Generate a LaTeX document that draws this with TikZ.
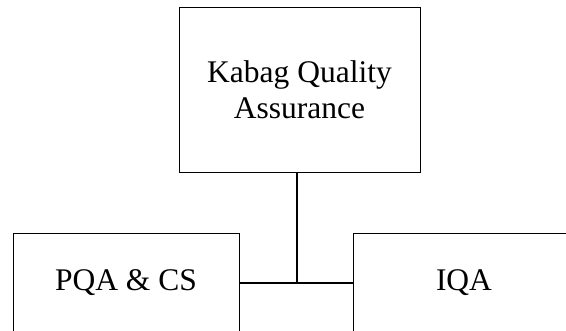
\documentclass[tikz,border=0pt]{standalone}
\usepackage{fontspec}
\setmainfont{Liberation Serif}
\begin{document}
\begin{tikzpicture}[x=1pt, y=-1pt,
    unit/.style = {draw, line width=0.8pt, inner sep=0pt, align=center,
                   font=\fontsize{31.5}{36}\selectfont},
    link/.style = {line width=2pt}]
  \useasboundingbox (0,0) rectangle (566,331);
  \clip (0,0) rectangle (566,331);
  \node[unit, minimum width=241pt, minimum height=165pt] (kabag) at (299.5,89.5) {Kabag Quality\\Assurance};
  \node[unit, minimum width=226pt, minimum height=100pt] (pqa) at (126,283) {PQA \& CS};
  \node[unit, minimum width=222pt, minimum height=100pt] (iqa) at (464,283) {IQA};
  \coordinate (top) at ([xshift=-2.5pt]kabag.south);
  \coordinate (joint) at (top |- pqa.east);
  \draw[link] (top) -- (joint);
  \draw[link] (pqa.east) -- (iqa.west);
\end{tikzpicture}
\end{document}
